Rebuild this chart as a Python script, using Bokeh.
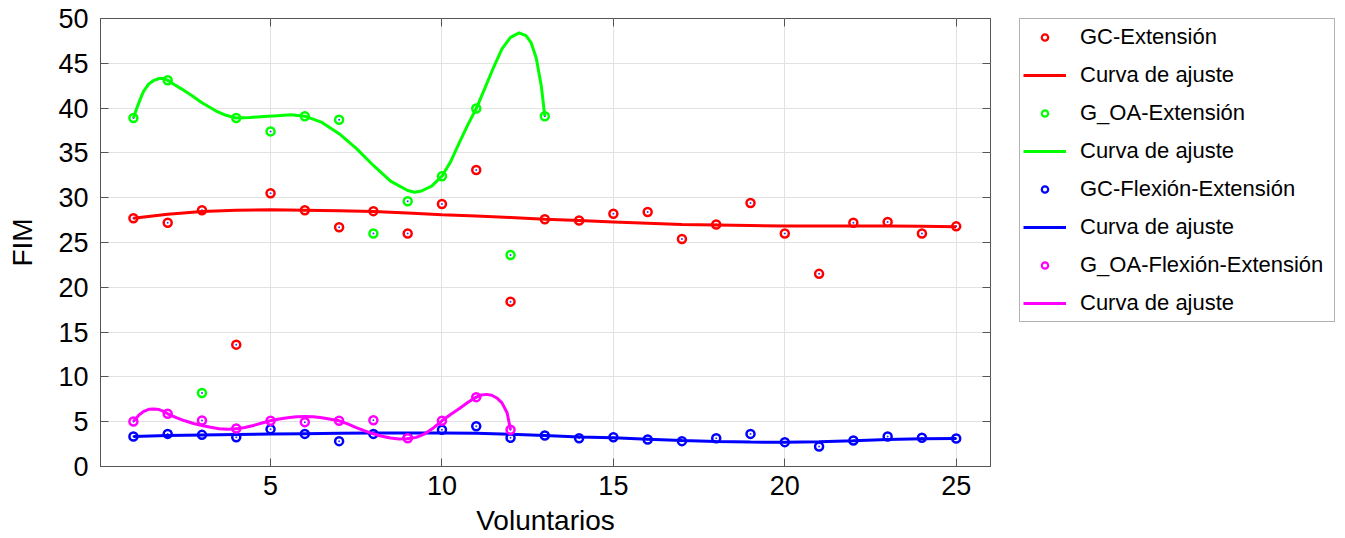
from bokeh.plotting import figure
from bokeh.layouts import row
from bokeh.models import Legend, LegendItem, LinearAxis, FixedTicker, Range1d
from bokeh.embed import file_html
from bokeh.resources import INLINE

# ---------------- data ----------------
voluntarios = list(range(1, 26))
gc_ext = [27.7, 27.2, 28.6, 13.6, 30.5, 28.6, 26.7, 28.5, 26.0, 29.3, 33.1, 18.4, 27.6,
          27.45, 28.2, 28.4, 25.4, 27.0, 29.4, 26.0, 21.5, 27.2, 27.3, 26.0, 26.8]
gc_ext_fit = [27.7, 28.15, 28.45, 28.6, 28.65, 28.6, 28.55, 28.45, 28.3, 28.1, 27.95, 27.8, 27.6,
              27.45, 27.3, 27.15, 27.0, 26.95, 26.9, 26.85, 26.85, 26.85, 26.85, 26.8, 26.75]

goa_vol = list(range(1, 14))
goa_ext = [38.9, 43.1, 8.2, 38.9, 37.4, 39.1, 38.7, 26.0, 29.6, 32.4, 39.95, 23.6, 39.1]
goa_ext_fit_x = [1.0, 1.1, 1.2, 1.3, 1.45, 1.6, 1.75, 1.9, 2.0, 2.2, 2.4, 2.7, 3.0, 3.4, 3.7,
                 4.0, 4.4, 4.8, 5.2, 5.6, 6.0, 6.5, 7.0, 7.5, 8.0, 8.5, 9.0, 9.2, 9.4, 9.7,
                 10.0, 10.25, 10.5, 10.75, 11.0, 11.25, 11.5, 11.75, 12.0, 12.25, 12.45,
                 12.6, 12.75, 12.9, 13.0]
goa_ext_fit = [38.9, 40.0, 41.0, 41.9, 42.7, 43.1, 43.3, 43.3, 43.1, 42.6, 42.15, 41.4, 40.6,
               39.7, 39.2, 38.9, 38.95, 39.05, 39.15, 39.25, 39.1, 38.4, 37.15, 35.5, 33.6,
               31.85, 30.8, 30.6, 30.75, 31.3, 32.4, 34.0, 36.1, 38.1, 39.95, 42.2, 44.5,
               46.6, 47.9, 48.4, 48.1, 47.3, 45.6, 42.4, 39.1]

gc_flex = [3.35, 3.64, 3.53, 3.27, 4.17, 3.64, 2.83, 3.64, 3.2, 4.1, 4.5, 3.2, 3.46,
           3.16, 3.27, 3.01, 2.83, 3.16, 3.64, 2.72, 2.23, 2.9, 3.35, 3.2, 3.13]
gc_flex_fit = [3.35, 3.45, 3.52, 3.57, 3.62, 3.66, 3.7, 3.73, 3.75, 3.75, 3.7, 3.6, 3.46,
               3.3, 3.2, 3.05, 2.9, 2.8, 2.73, 2.7, 2.75, 2.88, 3.02, 3.1, 3.13]

goa_flex_vol = list(range(1, 13))
goa_flex = [5.02, 5.88, 5.13, 4.24, 5.1, 4.95, 5.1, 5.17, 3.16, 5.1, 7.74, 4.1]
goa_flex_fit_x = [1.0, 1.15, 1.3, 1.45, 1.6, 1.75, 1.9, 2.0, 2.25, 2.5, 2.75, 3.0, 3.25, 3.5,
                  3.75, 4.0, 4.25, 4.5, 4.75, 5.0, 5.25, 5.5, 5.75, 6.0, 6.25, 6.5, 6.75,
                  7.0, 7.25, 7.5, 7.75, 8.0, 8.25, 8.5, 8.75, 9.0, 9.25, 9.5, 9.75, 10.0,
                  10.25, 10.5, 10.75, 11.0, 11.15, 11.3, 11.45, 11.6, 11.75, 11.9, 12.0]
goa_flex_fit = [5.02, 5.7, 6.15, 6.38, 6.43, 6.36, 6.12, 5.88, 5.45, 5.1, 4.8, 4.58, 4.38,
                4.22, 4.15, 4.2, 4.35, 4.58, 4.85, 5.1, 5.3, 5.45, 5.55, 5.58, 5.55, 5.43,
                5.28, 5.1, 4.75, 4.35, 3.98, 3.65, 3.38, 3.18, 3.08, 3.09, 3.25, 3.65, 4.3,
                5.1, 5.8, 6.45, 7.15, 7.74, 7.98, 8.05, 7.95, 7.65, 7.1, 6.0, 4.1]

x_ticks = [5, 10, 15, 20, 25]
y_ticks = [0, 5, 10, 15, 20, 25, 30, 35, 40, 45, 50]

labels = ["GC-Extensión", "Curva de ajuste", "G_OA-Extensión", "Curva de ajuste",
          "GC-Flexión-Extensión", "Curva de ajuste", "G_OA-Flexión-Extensión", "Curva de ajuste"]
colors = ["#ff0000", "#00ff00", "#0000ff", "#ff00ff"]

FONT = "Liberation Sans"
AX = "#555555"
H = 538
LEFT, FRAME_W, RIGHT = 100, 890, 10
TOP, BOTTOM = 18, 72

p = figure(width=LEFT + FRAME_W + RIGHT, height=H, output_backend="svg", toolbar_location=None,
           x_range=Range1d(0.04, 26.0), y_range=Range1d(0, 50),
           min_border_left=LEFT, min_border_right=RIGHT, min_border_top=TOP, min_border_bottom=BOTTOM)
p.background_fill_color = "white"
p.border_fill_color = "white"
p.outline_line_color = AX
p.outline_line_width = 1

for ax in (p.xaxis[0], p.yaxis[0]):
    ax.major_label_text_font = FONT
    ax.major_label_text_font_size = "27px"
    ax.major_label_text_color = "black"
    ax.axis_label_text_font = FONT
    ax.axis_label_text_font_size = "28px"
    ax.axis_label_text_font_style = "normal"
    ax.axis_label_text_color = "black"
    ax.axis_line_color = AX
    ax.major_tick_line_color = AX
    ax.major_tick_in = 8
    ax.major_tick_out = 0
    ax.minor_tick_line_color = None

p.xaxis[0].ticker = FixedTicker(ticks=x_ticks)
p.yaxis[0].ticker = FixedTicker(ticks=y_ticks)
p.xaxis[0].axis_label = "Voluntarios"
p.yaxis[0].axis_label = "FIM"
p.xaxis[0].major_label_standoff = 9
p.xaxis[0].axis_label_standoff = 7
p.yaxis[0].major_label_standoff = 12
p.yaxis[0].axis_label_standoff = 17

p.xgrid.ticker = FixedTicker(ticks=x_ticks)
p.ygrid.ticker = FixedTicker(ticks=y_ticks)
p.grid.grid_line_color = "#e2e2e2"
p.grid.grid_line_width = 1

# mirrored ticks on top and right
top = LinearAxis(ticker=FixedTicker(ticks=x_ticks), major_label_text_font_size="0px",
                 major_label_standoff=0, axis_line_color=None, major_tick_in=8, major_tick_out=0,
                 major_tick_line_color=AX, minor_tick_line_color=None)
right = LinearAxis(ticker=FixedTicker(ticks=y_ticks), major_label_text_font_size="0px",
                   major_label_standoff=0, axis_line_color=None, major_tick_in=8, major_tick_out=0,
                   major_tick_line_color=AX, minor_tick_line_color=None)
p.add_layout(top, "above")
p.add_layout(right, "right")

DOT = "#3a3aff"
series = [
    (voluntarios, gc_ext, voluntarios, gc_ext_fit),
    (goa_vol, goa_ext, goa_ext_fit_x, goa_ext_fit),
    (voluntarios, gc_flex, voluntarios, gc_flex_fit),
    (goa_flex_vol, goa_flex, goa_flex_fit_x, goa_flex_fit),
]
for (xs, ys, fx, fy), c in zip(series, colors):
    p.scatter(xs, ys, marker="circle", size=8, fill_color="white", line_color=c, line_width=2.5)
    p.scatter(xs, ys, marker="circle", size=2, fill_color=DOT, line_color=None)
    p.line(fx, fy, line_color=c, line_width=3)

# ---------------- legend panel ----------------
LEG_W = 1335 - (LEFT + FRAME_W + RIGHT)
q = figure(width=LEG_W, height=H, output_backend="svg", toolbar_location=None,
           x_range=Range1d(0, 26), y_range=Range1d(0, 50),
           x_axis_location=None, y_axis_location=None,
           min_border_left=0, min_border_right=0, min_border_top=0, min_border_bottom=0)
q.outline_line_color = None
q.grid.visible = False
q.background_fill_color = "white"
q.border_fill_color = "white"

items = []
li = 0
for (xs, ys, fx, fy), c in zip(series, colors):
    rs = q.scatter(xs, ys, marker="circle", size=8, fill_color="white", line_color=c, line_width=2.2)
    rs.visible = False
    rl = q.line(fx, fy, line_color=c, line_width=3)
    rl.visible = False
    items.append(LegendItem(label=labels[li], renderers=[rs]))
    items.append(LegendItem(label=labels[li + 1], renderers=[rl]))
    li += 2

legend = Legend(items=items, location=(19, 144), margin=0, padding=3, spacing=8,
                glyph_width=43, glyph_height=16, label_height=30, label_width=251,
                label_standoff=14, label_text_font=FONT, label_text_font_size="22px",
                label_text_color="black", border_line_color="#666666", border_line_width=1,
                background_fill_color="white", background_fill_alpha=1.0,
                inactive_fill_alpha=0.0)
q.add_layout(legend)

open("out.html", "w").write(file_html(row(p, q), INLINE))
